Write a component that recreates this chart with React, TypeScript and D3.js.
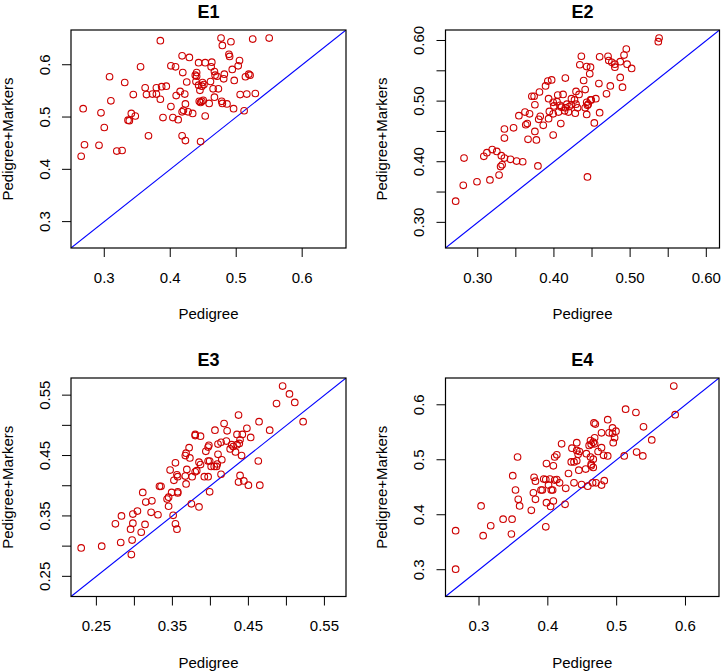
import React from "react";
import * as d3 from "d3";

const panelTitles = ["E1", "E2", "E3", "E4"];
const xAxisTitle = "Pedigree";
const yAxisTitle = "Pedigree+Markers";

// [Pedigree, Pedigree+Markers]
const e1Points: [number, number][] = [
  [0.385,0.646],[0.477,0.651],[0.492,0.644],[0.525,0.649],[0.550,0.651],[0.479,0.637],[0.489,0.620],[0.490,0.616],[0.418,0.617],[0.429,0.614],
  [0.355,0.596],[0.401,0.598],[0.408,0.596],[0.443,0.604],[0.453,0.604],[0.463,0.605],[0.505,0.608],[0.503,0.598],[0.462,0.596],[0.467,0.587],
  [0.468,0.580],[0.419,0.585],[0.440,0.585],[0.438,0.580],[0.440,0.578],[0.482,0.582],[0.494,0.591],[0.308,0.577],[0.331,0.566],[0.425,0.567],
  [0.439,0.568],[0.449,0.566],[0.461,0.568],[0.471,0.578],[0.481,0.573],[0.497,0.570],[0.519,0.582],[0.521,0.580],[0.514,0.577],[0.362,0.556],
  [0.379,0.556],[0.387,0.558],[0.394,0.559],[0.415,0.549],[0.443,0.561],[0.448,0.559],[0.451,0.562],[0.465,0.554],[0.473,0.554],[0.364,0.543],
  [0.373,0.544],[0.379,0.544],[0.385,0.534],[0.409,0.541],[0.422,0.544],[0.445,0.551],[0.344,0.543],[0.310,0.531],[0.467,0.538],[0.444,0.530],
  [0.448,0.530],[0.446,0.528],[0.450,0.532],[0.459,0.526],[0.478,0.530],[0.479,0.526],[0.486,0.525],[0.496,0.516],[0.506,0.543],[0.516,0.544],
  [0.529,0.545],[0.401,0.520],[0.423,0.525],[0.268,0.516],[0.295,0.508],[0.341,0.507],[0.347,0.502],[0.336,0.494],[0.338,0.493],[0.389,0.499],
  [0.404,0.499],[0.412,0.495],[0.418,0.510],[0.420,0.513],[0.427,0.510],[0.434,0.507],[0.453,0.502],[0.512,0.512],[0.300,0.480],[0.367,0.464],
  [0.418,0.464],[0.423,0.455],[0.446,0.453],[0.270,0.447],[0.292,0.446],[0.319,0.435],[0.327,0.436],[0.265,0.425],
];

const e2Points: [number, number][] = [
  [0.538,0.604],[0.537,0.598],[0.495,0.586],[0.436,0.574],[0.460,0.573],[0.471,0.574],[0.472,0.567],[0.476,0.564],[0.480,0.561],[0.480,0.556],
  [0.487,0.565],[0.492,0.576],[0.496,0.561],[0.502,0.554],[0.434,0.560],[0.443,0.557],[0.448,0.556],[0.447,0.545],[0.415,0.538],[0.439,0.534],
  [0.392,0.533],[0.397,0.535],[0.389,0.525],[0.487,0.539],[0.459,0.529],[0.474,0.525],[0.490,0.523],[0.469,0.512],[0.371,0.508],[0.374,0.508],
  [0.381,0.515],[0.429,0.516],[0.433,0.511],[0.441,0.519],[0.412,0.511],[0.405,0.510],[0.393,0.504],[0.404,0.499],[0.423,0.504],[0.417,0.495],
  [0.427,0.502],[0.455,0.504],[0.449,0.502],[0.375,0.494],[0.399,0.498],[0.400,0.492],[0.408,0.493],[0.410,0.490],[0.415,0.489],[0.420,0.491],
  [0.423,0.494],[0.429,0.495],[0.443,0.498],[0.445,0.495],[0.448,0.502],[0.431,0.489],[0.444,0.493],[0.441,0.489],[0.394,0.483],[0.399,0.479],
  [0.406,0.482],[0.414,0.484],[0.419,0.482],[0.428,0.480],[0.443,0.478],[0.460,0.481],[0.354,0.476],[0.362,0.482],[0.368,0.479],[0.380,0.470],
  [0.382,0.475],[0.393,0.471],[0.365,0.463],[0.363,0.461],[0.386,0.460],[0.409,0.463],[0.453,0.464],[0.335,0.454],[0.347,0.456],[0.375,0.450],
  [0.335,0.439],[0.366,0.437],[0.377,0.436],[0.399,0.444],[0.308,0.409],[0.312,0.415],[0.319,0.420],[0.325,0.417],[0.331,0.410],[0.335,0.406],
  [0.343,0.404],[0.351,0.401],[0.359,0.400],[0.282,0.406],[0.332,0.395],[0.330,0.392],[0.379,0.393],[0.328,0.378],[0.299,0.367],[0.316,0.370],
  [0.281,0.361],[0.444,0.375],[0.271,0.335],
];

const e3Points: [number, number][] = [
  [0.495,0.565],[0.504,0.552],[0.511,0.538],[0.487,0.536],[0.522,0.506],[0.437,0.517],[0.464,0.506],[0.478,0.492],[0.418,0.503],[0.406,0.492],
  [0.422,0.491],[0.448,0.495],[0.453,0.480],[0.435,0.485],[0.442,0.485],[0.410,0.469],[0.414,0.472],[0.421,0.474],[0.428,0.468],[0.430,0.465],
  [0.435,0.468],[0.438,0.470],[0.439,0.476],[0.426,0.461],[0.433,0.456],[0.441,0.450],[0.398,0.467],[0.397,0.464],[0.394,0.457],[0.380,0.485],
  [0.380,0.483],[0.387,0.482],[0.372,0.463],[0.368,0.454],[0.367,0.450],[0.373,0.446],[0.385,0.439],[0.387,0.435],[0.410,0.452],[0.399,0.441],
  [0.405,0.432],[0.409,0.436],[0.408,0.432],[0.415,0.443],[0.397,0.441],[0.401,0.432],[0.414,0.419],[0.369,0.427],[0.376,0.415],[0.380,0.423],
  [0.382,0.425],[0.392,0.415],[0.397,0.415],[0.367,0.416],[0.354,0.438],[0.347,0.426],[0.356,0.418],[0.357,0.415],[0.352,0.409],[0.368,0.403],
  [0.463,0.441],[0.439,0.417],[0.437,0.406],[0.444,0.408],[0.450,0.401],[0.465,0.401],[0.399,0.390],[0.333,0.399],[0.335,0.399],[0.311,0.389],
  [0.315,0.373],[0.323,0.375],[0.357,0.390],[0.357,0.388],[0.349,0.389],[0.343,0.378],[0.345,0.381],[0.345,0.366],[0.375,0.370],[0.385,0.365],
  [0.322,0.356],[0.331,0.352],[0.298,0.353],[0.304,0.358],[0.283,0.350],[0.275,0.337],[0.298,0.338],[0.314,0.336],[0.295,0.328],[0.309,0.323],
  [0.351,0.351],[0.354,0.337],[0.356,0.328],[0.282,0.306],[0.297,0.310],[0.257,0.300],[0.230,0.297],[0.296,0.286],
];

const e4Points: [number, number][] = [
  [0.583,0.634],[0.585,0.582],[0.513,0.592],[0.528,0.586],[0.487,0.573],[0.539,0.560],[0.551,0.536],[0.467,0.567],[0.469,0.565],[0.494,0.558],
  [0.499,0.552],[0.494,0.548],[0.489,0.549],[0.497,0.540],[0.495,0.531],[0.478,0.549],[0.468,0.540],[0.462,0.535],[0.466,0.532],[0.463,0.528],
  [0.468,0.529],[0.460,0.526],[0.478,0.522],[0.473,0.515],[0.481,0.508],[0.487,0.507],[0.420,0.529],[0.442,0.531],[0.435,0.521],[0.442,0.517],
  [0.446,0.515],[0.444,0.510],[0.456,0.511],[0.462,0.505],[0.466,0.501],[0.463,0.492],[0.413,0.509],[0.410,0.505],[0.434,0.496],[0.438,0.496],
  [0.442,0.498],[0.463,0.489],[0.356,0.505],[0.398,0.493],[0.408,0.489],[0.430,0.475],[0.445,0.481],[0.455,0.483],[0.466,0.486],[0.511,0.507],
  [0.529,0.514],[0.538,0.507],[0.349,0.471],[0.380,0.468],[0.382,0.461],[0.394,0.465],[0.397,0.464],[0.403,0.465],[0.410,0.463],[0.413,0.464],
  [0.417,0.458],[0.401,0.454],[0.390,0.445],[0.392,0.445],[0.405,0.445],[0.407,0.445],[0.426,0.448],[0.438,0.458],[0.449,0.455],[0.458,0.452],
  [0.465,0.458],[0.470,0.458],[0.482,0.462],[0.478,0.454],[0.353,0.445],[0.379,0.440],[0.382,0.428],[0.357,0.428],[0.398,0.422],[0.408,0.425],
  [0.404,0.415],[0.359,0.416],[0.303,0.416],[0.376,0.408],[0.425,0.419],[0.335,0.392],[0.348,0.392],[0.397,0.378],[0.347,0.365],[0.317,0.380],
  [0.306,0.362],[0.266,0.371],[0.266,0.301],
];

const e1Ticks = [0.3, 0.4, 0.5, 0.6];
const e1TickLabels = ["0.3", "0.4", "0.5", "0.6"];
const e2Ticks = [0.30, 0.35, 0.40, 0.45, 0.50, 0.55, 0.60];
const e2TickLabels = ["0.30", "", "0.40", "", "0.50", "", "0.60"];
const e3Ticks = [0.25, 0.30, 0.35, 0.40, 0.45, 0.50, 0.55];
const e3TickLabels = ["0.25", "", "0.35", "", "0.45", "", "0.55"];
const e4Ticks = [0.3, 0.4, 0.5, 0.6];
const e4TickLabels = ["0.3", "0.4", "0.5", "0.6"];

// plot box of each panel (pixels)
const boxes = [
  { x0: 71, x1: 346, y0: 30, y1: 248 },
  { x0: 445.5, x1: 719.5, y0: 30, y1: 248 },
  { x0: 71, x1: 346, y0: 378, y1: 596.5 },
  { x0: 445.5, x1: 719, y0: 378, y1: 596.5 },
];

const FONT = "'Liberation Sans', Arial, Helvetica, sans-serif";
const POINT_COLOR = "#CD0000";
const LINE_COLOR = "#0000FF";

type PanelProps = {
  title: string;
  points: [number, number][];
  ticks: number[];
  labels: string[];
  box: { x0: number; x1: number; y0: number; y1: number };
};

function Panel({ title, points, ticks, labels, box }: PanelProps) {
  const all = points.flatMap((p) => p);
  const [mn, mx] = d3.extent(all) as [number, number];
  const pad = (mx - mn) * 0.04;
  const lo = mn - pad;
  const hi = mx + pad;
  const x = d3.scaleLinear().domain([lo, hi]).range([box.x0, box.x1]);
  const y = d3.scaleLinear().domain([lo, hi]).range([box.y1, box.y0]);
  const cx = (box.x0 + box.x1) / 2;
  const cy = (box.y0 + box.y1) / 2;
  const tickLen = 9;
  const clipId = `clip-${title}`;
  return (
    <g>
      <defs>
        <clipPath id={clipId}>
          <rect x={box.x0} y={box.y0} width={box.x1 - box.x0} height={box.y1 - box.y0} />
        </clipPath>
      </defs>
      <text x={cx} y={box.y0 - 12.5} textAnchor="middle" fontFamily={FONT} fontWeight="bold" fontSize={18}>
        {title}
      </text>
      {/* diagonal */}
      <line
        x1={x(lo)}
        y1={y(lo)}
        x2={x(hi)}
        y2={y(hi)}
        stroke={LINE_COLOR}
        strokeWidth={1.1}
        clipPath={`url(#${clipId})`}
      />
      {points.map((p, i) => (
        <circle key={i} cx={x(p[0])} cy={y(p[1])} r={3.3} fill="none" stroke={POINT_COLOR} strokeWidth={1.1} />
      ))}
      <rect
        x={box.x0}
        y={box.y0}
        width={box.x1 - box.x0}
        height={box.y1 - box.y0}
        fill="none"
        stroke="#000"
        strokeWidth={1.2}
      />
      {/* x axis */}
      {ticks.map((t, i) => (
        <g key={`x${i}`}>
          <line x1={x(t)} x2={x(t)} y1={box.y1} y2={box.y1 + tickLen} stroke="#000" strokeWidth={1} />
          {labels[i] && (
            <text x={x(t)} y={box.y1 + 34.5} textAnchor="middle" fontFamily={FONT} fontSize={15}>
              {labels[i]}
            </text>
          )}
        </g>
      ))}
      {/* y axis */}
      {ticks.map((t, i) => (
        <g key={`y${i}`}>
          <line x1={box.x0} x2={box.x0 - tickLen} y1={y(t)} y2={y(t)} stroke="#000" strokeWidth={1} />
          {labels[i] && (
            <text
              transform={`translate(${box.x0 - 21.5},${y(t)}) rotate(-90)`}
              textAnchor="middle"
              fontFamily={FONT}
              fontSize={15}
            >
              {labels[i]}
            </text>
          )}
        </g>
      ))}
      <text x={cx} y={box.y1 + 71} textAnchor="middle" fontFamily={FONT} fontSize={15}>
        {xAxisTitle}
      </text>
      <text
        transform={`translate(${box.x0 - 58.5},${cy}) rotate(-90)`}
        textAnchor="middle"
        fontFamily={FONT}
        fontSize={15}
      >
        {yAxisTitle}
      </text>
    </g>
  );
}

export default function App() {
  const panels = [
    { points: e1Points, ticks: e1Ticks, labels: e1TickLabels },
    { points: e2Points, ticks: e2Ticks, labels: e2TickLabels },
    { points: e3Points, ticks: e3Ticks, labels: e3TickLabels },
    { points: e4Points, ticks: e4Ticks, labels: e4TickLabels },
  ];
  return (
    <svg
      width={722}
      height={672}
      viewBox="0 0 722 672"
      style={{ position: "absolute", left: 0, top: 0, background: "#fff" }}
    >
      <rect x={0} y={0} width={722} height={672} fill="#fff" />
      {panels.map((p, i) => (
        <Panel key={i} title={panelTitles[i]} points={p.points} ticks={p.ticks} labels={p.labels} box={boxes[i]} />
      ))}
    </svg>
  );
}
